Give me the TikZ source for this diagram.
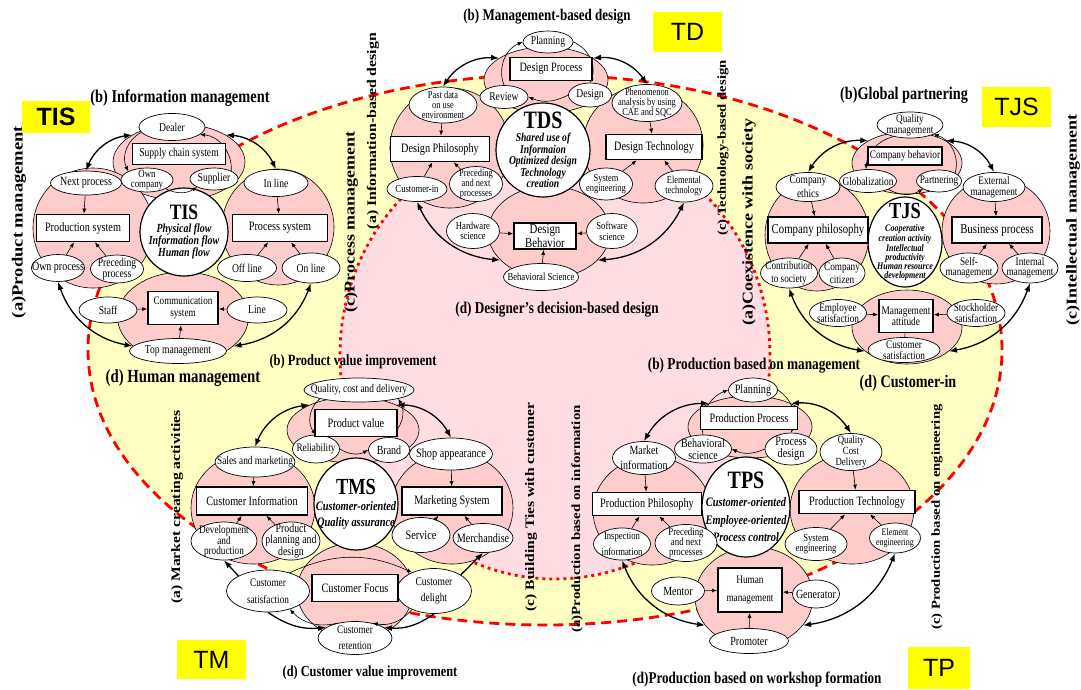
\documentclass[tikz,border=0pt]{standalone}
\usepackage{fontspec}
\setmainfont{Liberation Serif}[FakeStretch=0.8]
\newfontfamily\widefont{Liberation Serif}[FakeStretch=1.2]
\newfontfamily\tagfont{Liberation Sans}
\usetikzlibrary{shapes.geometric,arrows.meta}
\definecolor{bgyellow}{HTML}{FFFFC4}
\definecolor{bgpink}{HTML}{FFDDE2}
\definecolor{zonepink}{HTML}{FFCCCC}
\definecolor{tagyellow}{HTML}{FFFF00}
\tikzset{
  sz/.style 2 args={minimum width=#1pt, minimum height=#2pt},
  fs/.style 2 args={font=\fontsize{#1}{#2}\selectfont},
  zone/.style={ellipse, draw, fill=zonepink, line width=0.6pt, inner sep=0pt},
  item/.style={ellipse, draw, fill=white, line width=0.7pt, inner xsep=-14pt, inner ysep=-6pt, align=center, fs={12}{11}},
  unitbox/.style={draw, fill=white, line width=1.8pt, inner sep=0pt, align=center, fs={12.8}{12}},
  hub/.style 2 args={ellipse, draw, fill=white, line width=1.2pt, inner xsep=-14pt, inner ysep=-12pt, align=center, font=\bfseries\itshape\fontsize{#1}{#2}\selectfont},
  headline/.style={font=\bfseries\fontsize{#1}{#1}\selectfont},
  headline/.default=16.5,
  sidelabel/.style={rotate=90, font=\widefont\bfseries\fontsize{#1}{#1}\selectfont},
  yellowtag/.style={fill=tagyellow, inner sep=0pt, font=\tagfont\fontsize{25}{25}\selectfont},
  outerarc/.style={line width=1.3pt, {Latex[length=8pt,width=6pt]}-{Latex[length=8pt,width=6pt]}},
  onearc/.style={line width=1.3pt, -{Latex[length=8pt,width=6pt]}},
  feed/.style={line width=0.6pt, -{Latex[length=5pt,width=4pt]}},
}
\newcommand{\hubname}[2]{\fontsize{#1}{#1}\selectfont\upshape #2}
\begin{document}
\begin{tikzpicture}[x=1pt, y=-1pt]
\useasboundingbox (0,0) rectangle (1081,689);
\fill[bgyellow] (545,350) ellipse [x radius=457pt, y radius=275pt];
\draw[red, line width=2.8pt, dash pattern=on 10pt off 6pt] (545,350) ellipse [x radius=457pt, y radius=275pt];
\filldraw[fill=bgpink, draw=red, line width=2.8pt, dash pattern=on 3pt off 4pt] (555,355) ellipse [x radius=215pt, y radius=224pt];

% TIS
\node[zone, sz={132}{76}] (tisT) at (179,162) {};
\node[zone, sz={120}{120}] (tisL) at (93,228) {};
\node[zone, sz={112}{116}] (tisR) at (278,227) {};
\node[zone, sz={131}{90}] (tisB) at (183,317) {};
\node[hub={12.4}{12}, sz={88}{88}] (tis) at (184,232) {\hubname{22}{TIS}\\[1pt]Physical flow\\Information flow\\Human flow};
\node[item, sz={66}{27}] (dealer) at (172,127) {Dealer};
\node[item, sz={52}{24}, fs={11}{10}] (owncomp) at (147,180) {Own\\company};
\node[item, sz={48}{22}] (supplier) at (214,179) {Supplier};
\node[item, sz={71}{24}, fs={12.5}{11}] (nextp) at (86,183) {Next process};
\node[item, sz={64}{27}] (inline) at (276,183) {In line};
\node[item, sz={53}{27}, fs={12.5}{11}] (ownproc) at (58,268) {Own process};
\node[item, sz={53}{28}, fs={12}{11.5}] (precproc) at (117,269) {Preceding\\process};
\node[item, sz={59}{27}] (offline) at (247,268) {Off line};
\node[item, sz={58}{30}] (online) at (311,268) {On line};
\node[item, sz={58}{26}] (staff) at (108,310) {Staff};
\node[item, sz={60}{26}] (lineitem) at (257,310) {Line};
\node[item, sz={97}{25}] (topmgmt) at (178,351) {Top management};
\draw[feed] (dealer.190) to[bend right=45] (owncomp.north west);
\draw[feed] (supplier.north east) to[bend right=45] (dealer.345);
\draw[feed] (owncomp.south east) to[bend right=30] (supplier.south west);
\node[unitbox, sz={93}{21}, fs={12}{12}] (supply) at (179,154) {Supply chain system};
\node[unitbox, sz={93}{27}] (prodsys) at (83,228) {Production system};
\node[unitbox, sz={95}{27}] (procsys) at (280,228) {Process system};
\node[unitbox, sz={70}{33}, fs={11.4}{11.7}] (commsys) at (183,308) {Communication\\system};
\draw[feed] (nextp) to (prodsys);
\draw[feed] (ownproc) to (prodsys);
\draw[feed] (precproc) to (prodsys);
\draw[feed] (inline) to (procsys);
\draw[feed] (offline) to (procsys);
\draw[feed] (online) to (procsys);
\draw[feed] (staff) to (commsys);
\draw[feed] (lineitem) to (commsys);
\draw[feed] (topmgmt) to (commsys);
\draw[outerarc] (tisT.150) to[bend right=30] (nextp.north);
\draw[outerarc] (tisT.30) to[bend left=30] (inline.north);
\draw[outerarc] (ownproc.south) to[bend right=30] (tisB.210);
\draw[outerarc] (online.south) to[bend left=30] (tisB.330);
\node[headline=18] (tisNorth) at (180,98) {(b) Information management};
\node[headline=18.5] (tisSouth) at (183,378) {(d) Human management};
\node[sidelabel=15.5] (tisWest) at (19,222) {(a)Product management};
\node[sidelabel=15] (tisEast) at (351,222) {(c)Process management};
\node[yellowtag, sz={68}{32}] (tisTag) at (56,117) {\bfseries TIS};

% TDS
\node[zone, sz={124}{66}] (tdsT) at (546,80) {};
\node[zone, sz={120}{120}] (tdsL) at (450,148) {};
\node[zone, sz={120}{116}] (tdsR) at (643,145) {};
\node[zone, sz={122}{92}] (tdsB) at (549,232) {};
\node[hub={12}{11.5}, sz={94}{94}] (tds) at (543,150) {\hubname{25}{TDS}\\[2pt]Shared use of\\Informaion\\Optimized design\\Technology\\creation};
\node[item, sz={50}{22}] (planning) at (548,42) {Planning};
\node[item, sz={48}{23}] (review) at (504,97) {Review};
\node[item, sz={43}{24}] (design) at (590,95) {Design};
\node[item, sz={68}{36}, fs={10.5}{10}] (pastdata) at (443,105) {Past data\\on use\\environment};
\node[item, sz={70}{37}, fs={10.5}{10}] (phenom) at (647,103) {Phenomenon\\analysis by using\\CAE and SQC};
\node[item, sz={60}{25}, fs={10.8}{10}] (custin) at (417,189) {Customer-in};
\node[item, sz={53}{35}, fs={10.5}{10}] (precnext) at (476,184) {Preceding\\and next\\processes};
\node[item, sz={53}{32}, fs={10.5}{10.5}] (syseng) at (606,184) {System\\engineering};
\node[item, sz={58}{32}, fs={10.5}{10.5}] (elemtech) at (684,186) {Elemental\\technology};
\node[item, sz={53}{35}, fs={10.8}{10.5}] (hardware) at (473,231) {Hardware\\science};
\node[item, sz={51}{35}, fs={10.8}{10.5}] (software) at (612,231) {Software\\science};
\node[item, sz={75}{27}, fs={10.8}{10}] (behsci) at (541,277) {Behavioral Science};
\draw[feed] (review.north) to[bend left=45] (planning.west);
\draw[feed] (planning.east) to[bend left=45] (design.north);
\draw[feed] (design.west) to[bend left=25] (review.east);
\node[unitbox, sz={82}{23}] (dprocess) at (551,69) {Design Process};
\node[unitbox, sz={99}{25}] (dphil) at (440,149) {Design Philosophy};
\node[unitbox, sz={96}{25}] (dtech) at (654,147) {Design Technology};
\node[unitbox, sz={62}{26}, fs={13.5}{11.5}] (dbehav) at (545,236) {Design\\Behavior};
\draw[feed] (pastdata) to (dphil);
\draw[feed] (custin) to (dphil);
\draw[feed] (precnext) to (dphil);
\draw[feed] (phenom) to (dtech);
\draw[feed] (syseng) to (dtech);
\draw[feed] (elemtech) to (dtech);
\draw[feed] (hardware) to (dbehav);
\draw[feed] (software) to (dbehav);
\draw[feed] (behsci) to (dbehav);
\draw[outerarc] (tdsT.155) to[bend right=30] (pastdata.north);
\draw[outerarc] (tdsT.25) to[bend left=30] (phenom.north);
\draw[outerarc] (custin.south) to[bend right=30] (tdsB.210);
\draw[outerarc] (elemtech.south) to[bend left=30] (tdsB.330);
\node[headline=16.3] (tdsNorth) at (547,17) {(b) Management-based design};
\node[headline=16.5] (tdsSouth) at (557,310) {(d) Designer's decision-based design};
\node[sidelabel=13.2] (tdsWest) at (373,131) {(a) Information-based design};
\node[sidelabel=12.2] (tdsEast) at (723,148) {(c) Technology-based design};
\node[yellowtag, sz={69}{40}] (tdsTag) at (687.5,32) {TD};

% TJS
\node[zone, sz={110}{62}] (tjsT) at (907,163) {};
\node[zone, sz={104}{112}] (tjsL) at (817,235) {};
\node[zone, sz={108}{106}] (tjsR) at (996,231) {};
\node[zone, sz={110}{74}] (tjsB) at (907,327) {};
\node[hub={10}{9}, sz={74}{90}] (tjs) at (905,242) {\hubname{23}{TJS}\\[4pt]Cooperative\\creation activity\\Intellectual\\productivity\\Human resource\\development};
\node[item, sz={66}{26}, fs={11.5}{11}] (qualmgmt) at (910,125) {Quality\\management};
\node[item, sz={57}{23}, fs={11.7}{11}] (global) at (868,181) {Globalization};
\node[item, sz={45}{22}, fs={11.5}{11}] (partner) at (939,181) {Partnering};
\node[item, sz={64}{29}, fs={11.8}{14}] (cethics) at (808,187) {Company\\ethics};
\node[item, sz={62}{29}, fs={11.5}{11.5}] (extmgmt) at (994,187) {External\\management};
\node[item, sz={57}{30}, fs={11.5}{13}] (contrib) at (789,273) {Contribution\\to society};
\node[item, sz={46}{30}, fs={11.5}{13}] (citizen) at (842,273) {Company\\citizen};
\node[item, sz={58}{30}, fs={11.5}{10}] (selfm) at (969,268) {Self-\\management};
\node[item, sz={56}{30}, fs={11.5}{10}] (intm) at (1030,268) {Internal\\management};
\node[item, sz={57}{27}, fs={11.5}{11}] (empsat) at (838,313) {Employee\\satisfaction};
\node[item, sz={58}{27}, fs={11.5}{11}] (stocksat) at (976,313) {Stockholder\\satisfaction};
\node[item, sz={72}{25}, fs={11.5}{10.7}] (custsat) at (904,350) {Customer\\satisfaction};
\draw[feed] (qualmgmt.215) to[bend right=35] (global.100);
\draw[feed] (partner.north east) to[bend right=45] (qualmgmt.south east);
\draw[feed] (global.south east) to[bend right=30] (partner.south west);
\node[unitbox, sz={74}{18}, fs={11.5}{11}] (cbehav) at (905,156) {Company behavior};
\node[unitbox, sz={100}{26}, fs={13.5}{12}] (cphil) at (818,230) {Company philosophy};
\node[unitbox, sz={90}{26}, fs={13.5}{12}] (bproc) at (997,230) {Business process};
\node[unitbox, sz={54}{33}, fs={11.7}{11.3}] (mattitude) at (906,316) {Management\\attitude};
\draw[feed] (cethics) to (cphil);
\draw[feed] (contrib) to (cphil);
\draw[feed] (citizen) to (cphil);
\draw[feed] (extmgmt) to (bproc);
\draw[feed] (selfm) to (bproc);
\draw[feed] (intm) to (bproc);
\draw[feed] (empsat) to (mattitude);
\draw[feed] (stocksat) to (mattitude);
\draw[line width=0.6pt] (mattitude) to (custsat);
\draw[outerarc] (tjsT.150) to[bend right=30] (cethics.north);
\draw[outerarc] (tjsT.30) to[bend left=30] (extmgmt.north);
\draw[outerarc] (contrib.south) to[bend right=30] (tjsB.210);
\draw[outerarc] (intm.south) to[bend left=30] (tjsB.330);
\node[headline=17.8] (tjsNorth) at (904,95) {(b)Global partnering};
\node[headline=17.7] (tjsSouth) at (908,383) {(d) Customer-in};
\node[sidelabel=15] (tjsWest) at (749,222) {(a)Coexistence with society};
\node[sidelabel=15] (tjsEast) at (1073,220) {(c)Intellectual management};
\node[yellowtag, sz={69}{40}] (tjsTag) at (1016.5,107) {TJS};

% TMS
\node[zone, sz={132}{66}] (tmsT) at (353,430) {};
\node[zone, sz={124}{112}] (tmsL) at (253,508) {};
\node[zone, sz={122}{112}] (tmsR) at (452,508) {};
\node[zone, sz={116}{96}] (tmsB) at (355,591) {};
\node[hub={13}{15.7}, sz={84}{92}] (tms) at (356,504) {\hubname{23}{TMS}\\[1pt]Customer-oriented\\Quality assurance};
\node[item, sz={110}{24}, fs={11.7}{11}] (qcd) at (359,390) {Quality, cost and delivery};
\node[item, sz={47}{28}, fs={11.5}{11}] (reliab) at (316,449) {Reliability};
\node[item, sz={41}{25}, fs={12.5}{11}] (brand) at (389,450) {Brand};
\node[item, sz={80}{30}, fs={11.7}{11}] (salesm) at (255,462) {Sales and marketing};
\node[item, sz={83}{32}, fs={12.8}{11}] (shopapp) at (451,454) {Shop appearance};
\node[item, sz={66}{38}, fs={11.5}{10}] (devprod) at (224,541) {Development\\and\\production};
\node[item, sz={58}{38}, fs={12.3}{11}] (ppd) at (291,541) {Product\\planning and\\design};
\node[item, sz={58}{35}, fs={12.8}{11}] (service) at (421,535) {Service};
\node[item, sz={60}{29}, fs={12.7}{11}] (merch) at (483,538) {Merchandise};
\node[item, sz={83}{42}, fs={11.5}{17}] (custsatm) at (268,591) {Customer\\satisfaction};
\node[item, sz={75}{45}, fs={11.8}{16}] (delight) at (434,591) {Customer\\delight};
\node[item, sz={74}{33}, fs={11.5}{16}] (retention) at (355,638) {Customer\\retention};
\draw[feed] (qcd.south west) to[bend right=45] (reliab.north);
\draw[feed] (brand.north) to[bend right=45] (qcd.south east);
\draw[feed] (reliab.east) to[bend right=30] (brand.west);
\draw[feed] (custsatm.40) to[bend left=25] (delight.140);
\draw[feed] (delight.220) to[bend left=30] (retention.40);
\draw[feed] (retention.140) to[bend left=30] (custsatm.320);
\node[unitbox, sz={82}{27}] (pvalue) at (356,423) {Product value};
\node[unitbox, sz={111}{28}] (cinfo) at (252,501) {Customer Information};
\node[unitbox, sz={100}{28}] (msys) at (452,501) {Marketing System};
\node[unitbox, sz={86}{27}] (cfocus) at (355,588) {Customer Focus};
\draw[feed] (salesm) to (cinfo);
\draw[feed] (devprod) to (cinfo);
\draw[feed] (ppd) to (cinfo);
\draw[feed] (shopapp) to (msys);
\draw[feed] (service) to (msys);
\draw[feed] (merch) to (msys);
\draw[outerarc] (tmsT.150) to[bend right=30] (salesm.north);
\draw[outerarc] (tmsT.30) to[bend left=30] (shopapp.north);
\draw[onearc] (custsatm.north west) to (devprod.south);
\draw[onearc] (custsatm.south) to[bend right=20] (retention.160);
\draw[onearc] (delight.north east) to (merch.south);
\draw[onearc] (delight.south) to[bend left=20] (retention.20);
\node[headline=15.6] (tmsNorth) at (353,362) {(b) Product value improvement};
\node[headline=15.4] (tmsSouth) at (370,673) {(d) Customer value improvement};
\node[sidelabel=13] (tmsWest) at (177,507) {(a) Market creating activities};
\node[sidelabel=13] (tmsEast) at (531,507) {(c) Building Ties with customer};
\node[yellowtag, sz={69}{39}] (tmsTag) at (211.5,659.5) {TM};

% TPS
\node[zone, sz={124}{62}] (tpsT) at (750,427) {};
\node[zone, sz={118}{108}] (tpsL) at (652,511) {};
\node[zone, sz={124}{110}] (tpsR) at (852,509) {};
\node[zone, sz={118}{100}] (tpsB) at (754,597) {};
\node[hub={13}{17.5}, sz={88}{100}] (tps) at (746,507) {\hubname{25}{TPS}\\[1pt]Customer-oriented\\Employee-oriented\\Process control};
\node[item, sz={49}{24}, fs={12.8}{11}] (planningp) at (753,390) {Planning};
\node[item, sz={57}{28}, fs={12.5}{12.3}] (behsciP) at (703,449) {Behavioral\\science};
\node[item, sz={52}{32}, fs={12.8}{11.7}] (procdes) at (791,449) {Process\\design};
\node[item, sz={63}{33}, fs={12.5}{15}] (marketinfo) at (644,458) {Market\\information};
\node[item, sz={62}{37}, fs={11}{10.8}] (qcdP) at (851,452) {Quality\\Cost\\Delivery};
\node[item, sz={57}{32}, fs={10.8}{16.7}] (inspinfo) at (622,544) {Inspection\\information};
\node[item, sz={62}{37}, fs={11}{10.3}] (precnextP) at (686,543) {Preceding\\and next\\processes};
\node[item, sz={62}{33}, fs={10.8}{10.5}] (sysengP) at (816,544) {System\\engineering};
\node[item, sz={51}{30}, fs={10}{10}] (elemeng) at (895,538) {Element\\engineering};
\node[item, sz={53}{28}, fs={12.5}{11}] (mentor) at (678,591) {Mentor};
\node[item, sz={47}{28}, fs={12.5}{11}] (generator) at (816,594) {Generator};
\node[item, sz={79}{25}, fs={12.5}{11}] (promoter) at (749,641) {Promoter};
\draw[feed] (behsciP.north) to[bend left=40] (planningp.west);
\draw[feed] (planningp.east) to[bend left=40] (procdes.north);
\draw[feed] (procdes.west) to[bend left=25] (behsciP.east);
\node[unitbox, sz={97}{23}] (pprocess) at (749,418) {Production Process};
\node[unitbox, sz={109}{23}] (pphil) at (647,504) {Production Philosophy};
\node[unitbox, sz={116}{23}] (ptech) at (857,502) {Production Technology};
\node[unitbox, sz={64}{44}, fs={11.5}{17.7}] (hmgmt) at (750,590) {Human\\management};
\draw[feed] (marketinfo) to (pphil);
\draw[feed] (inspinfo) to (pphil);
\draw[feed] (precnextP) to (pphil);
\draw[feed] (qcdP) to (ptech);
\draw[feed] (sysengP) to (ptech);
\draw[feed] (elemeng) to (ptech);
\draw[feed] (mentor) to (hmgmt);
\draw[feed] (generator) to (hmgmt);
\draw[feed] (promoter) to (hmgmt);
\draw[outerarc] (tpsT.150) to[bend right=30] (marketinfo.north);
\draw[outerarc] (tpsT.30) to[bend left=30] (qcdP.north);
\draw[outerarc] (inspinfo.south) to[bend right=30] (tpsB.210);
\draw[outerarc] (elemeng.south) to[bend left=30] (tpsB.330);
\node[headline=16.6] (tpsNorth) at (754,366) {(b) Production based on management};
\node[headline=16.4] (tpsSouth) at (757,679) {(d)Production based on workshop formation};
\node[sidelabel=12.4] (tpsWest) at (577,519) {(a)Production based on information};
\node[sidelabel=12.2] (tpsEast) at (937,517) {(c) Production based on engineering};
\node[yellowtag, sz={62}{42}] (tpsTag) at (939,668) {TP};
\end{tikzpicture}
\end{document}
